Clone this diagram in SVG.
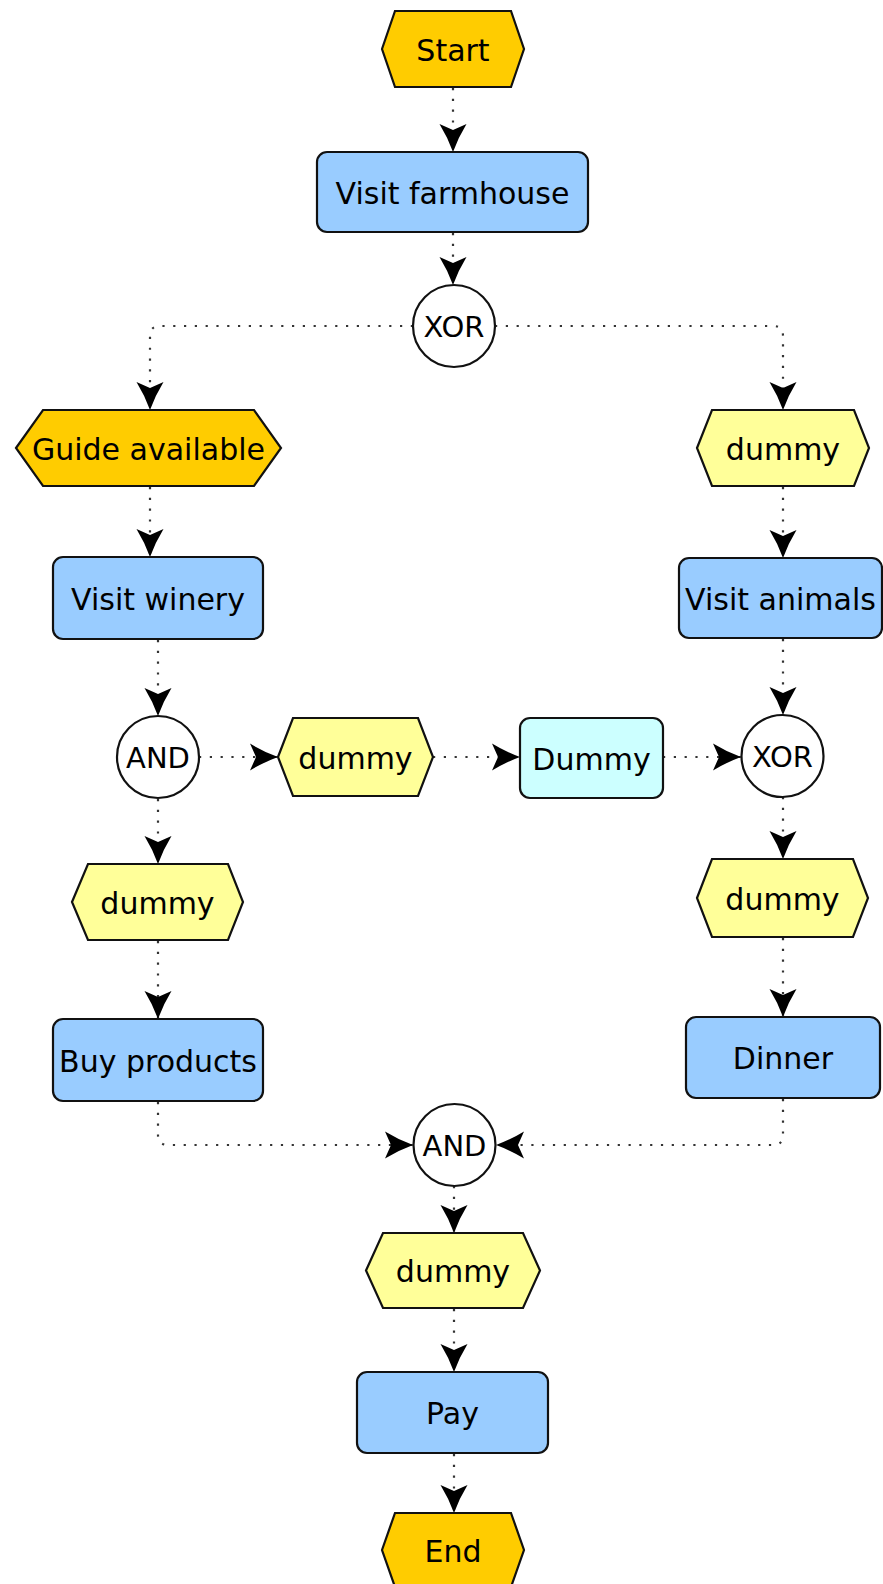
<svg xmlns="http://www.w3.org/2000/svg" width="883" height="1584" viewBox="0 0 883 1584">
<style>
.ev{stroke:#111;stroke-width:2.2;stroke-linejoin:miter}
.start{fill:#FFCC00}
.dum{fill:#FFFF99}
.fn{fill:#99CCFF;stroke:#111;stroke-width:2.2}
.fnd{fill:#CCFFFF;stroke:#111;stroke-width:2.2}
.gw{fill:#ffffff;stroke:#111;stroke-width:2.2}
.lbl{font-family:"DejaVu Sans","Liberation Sans",sans-serif;font-size:30px;fill:#000;text-anchor:middle;dominant-baseline:central}
.glbl{font-family:"DejaVu Sans","Liberation Sans",sans-serif;font-size:29px;fill:#000;text-anchor:middle;dominant-baseline:central}
.edge{fill:none;stroke:#333;stroke-width:2.2;stroke-dasharray:2.2 8.6;marker-end:url(#arr)}
</style>
<defs>
<marker id="arr" markerUnits="userSpaceOnUse" markerWidth="32" markerHeight="30" viewBox="-30 -15 32 30" refX="0" refY="0" orient="auto">
<path d="M0,0 Q-15,-5.5 -28,-13.5 L-22,0 L-28,13.5 Q-15,5.5 0,0 Z" fill="#000"/>
</marker>
</defs>

<g id="connectors">
<path class="edge" d="M453,88 V152"/>
<path class="edge" d="M453,233 V285"/>
<path class="edge" d="M413,326 H160 Q150,326 150,336 V410"/>
<path class="edge" d="M495,326 H773 Q783,326 783,336 V410"/>
<path class="edge" d="M150,487 V557"/>
<path class="edge" d="M783,487 V558"/>
<path class="edge" d="M158,640 V716"/>
<path class="edge" d="M783,639 V715"/>
<path class="edge" d="M199,757 H278"/>
<path class="edge" d="M433,757 H520"/>
<path class="edge" d="M663,757 H741"/>
<path class="edge" d="M158,799 V864"/>
<path class="edge" d="M783,797 V859"/>
<path class="edge" d="M158,941 V1019"/>
<path class="edge" d="M783,938 V1017"/>
<path class="edge" d="M158,1102 V1135 Q158,1145 168,1145 H413"/>
<path class="edge" d="M783,1099 V1135 Q783,1145 773,1145 H496"/>
<path class="edge" d="M454,1186 V1233"/>
<path class="edge" d="M454,1309 V1372"/>
<path class="edge" d="M454,1454 V1513"/>
</g>

<g id="start">
<path class="ev start" d="M382,49 L395,11 L511,11 L524,49 L511,87 L395,87 Z"/>
<text class="lbl" x="453" y="50">Start</text>
</g>
<g id="visit-farmhouse">
<rect class="fn" x="317" y="152" width="271" height="80" rx="10"/>
<text class="lbl" x="452.5" y="193">Visit farmhouse</text>
</g>
<g id="xor-top">
<circle class="gw" cx="454" cy="326" r="41"/>
<text class="glbl" x="454" y="327">XOR</text>
</g>
<g id="guide-available">
<path class="ev start" d="M16,448 L43,410 L254,410 L281,448 L254,486 L43,486 Z"/>
<text class="lbl" x="148.5" y="449">Guide available</text>
</g>
<g id="dummy-top-right">
<path class="ev dum" d="M697,448 L712,410 L854,410 L869,448 L854,486 L712,486 Z"/>
<text class="lbl" x="783" y="449">dummy</text>
</g>
<g id="visit-winery">
<rect class="fn" x="53" y="557" width="210" height="82" rx="10"/>
<text class="lbl" x="158" y="599">Visit winery</text>
</g>
<g id="visit-animals">
<rect class="fn" x="679" y="558" width="203" height="80" rx="10"/>
<text class="lbl" x="780.5" y="599">Visit animals</text>
</g>
<g id="and-left">
<circle class="gw" cx="158" cy="757" r="41"/>
<text class="glbl" x="158" y="758">AND</text>
</g>
<g id="dummy-mid">
<path class="ev dum" d="M278,757 L293,718 L418,718 L433,757 L418,796 L293,796 Z"/>
<text class="lbl" x="355.5" y="758">dummy</text>
</g>
<g id="dummy-function">
<rect class="fnd" x="520" y="718" width="143" height="80" rx="10"/>
<text class="lbl" x="591.5" y="759">Dummy</text>
</g>
<g id="xor-right">
<circle class="gw" cx="782.5" cy="756" r="41"/>
<text class="glbl" x="782.5" y="757">XOR</text>
</g>
<g id="dummy-lower-left">
<path class="ev dum" d="M72,902 L88,864 L228,864 L243,902 L228,940 L88,940 Z"/>
<text class="lbl" x="157.5" y="903">dummy</text>
</g>
<g id="dummy-lower-right">
<path class="ev dum" d="M697,898 L712,859 L853,859 L868,898 L853,937 L712,937 Z"/>
<text class="lbl" x="782.5" y="899">dummy</text>
</g>
<g id="buy-products">
<rect class="fn" x="53" y="1019" width="210" height="82" rx="10"/>
<text class="lbl" x="158" y="1061">Buy products</text>
</g>
<g id="dinner">
<rect class="fn" x="686" y="1017" width="194" height="81" rx="10"/>
<text class="lbl" x="783" y="1058">Dinner</text>
</g>
<g id="and-bottom">
<circle class="gw" cx="454.5" cy="1145" r="41"/>
<text class="glbl" x="454.5" y="1146">AND</text>
</g>
<g id="dummy-bottom">
<path class="ev dum" d="M366,1270.5 L383,1233 L523,1233 L540,1270.5 L523,1308 L383,1308 Z"/>
<text class="lbl" x="453" y="1271.5">dummy</text>
</g>
<g id="pay">
<rect class="fn" x="357" y="1372" width="191" height="81" rx="10"/>
<text class="lbl" x="452.5" y="1413">Pay</text>
</g>
<g id="end">
<path class="ev start" d="M382,1550 L395,1513 L511,1513 L524,1550 L511,1587 L395,1587 Z"/>
<text class="lbl" x="453" y="1551">End</text>
</g>
</svg>
